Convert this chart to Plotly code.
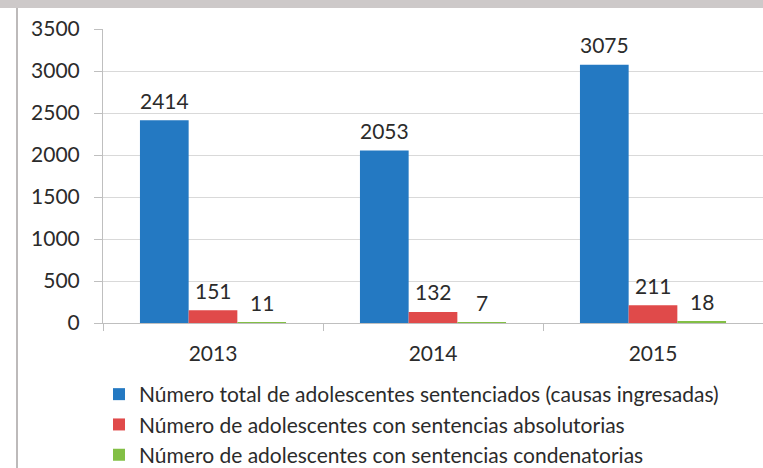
import plotly.graph_objects as go

years = ["2013", "2014", "2015"]
total = [2414, 2053, 3075]
absolutorias = [151, 132, 211]
condenatorias = [11, 7, 18]
series_names = [
    "Número total de adolescentes sentenciados (causas ingresadas)",
    "Número de adolescentes con sentencias absolutorias",
    "Número de adolescentes con sentencias condenatorias",
]
colors = ["#2479c2", "#e04a4a", "#82bf45"]

W, H = 763, 468
ML, MR, MT, MB = 103, 0, 29, 145
PW, PH = W - ML - MR, H - MT - MB

FONT = "Lato"
TXT = "#2b2b2b"
FS = 21
LFS = 21
BARGAP = 0.336

fig = go.Figure()
for name, vals, col in zip(series_names, [total, absolutorias, condenatorias], colors):
    fig.add_trace(go.Bar(x=years, y=vals, name=name, marker_color=col, marker_line_width=0))

# data labels (x given as category index)
bar_px = PW / len(years) * (1 - BARGAP) / 3
for i, vals in enumerate([total, absolutorias, condenatorias]):
    for j, v in enumerate(vals):
        fig.add_annotation(x=j, y=v, xref="x", yref="y", text=str(v), showarrow=False,
                           xshift=(i - 1) * bar_px, yshift=20, yanchor="middle",
                           font=dict(family=FONT, size=FS, color=TXT))

def px_to_paper_x(px):
    return (px - ML) / PW

def px_to_paper_y(py):
    return (H - MB - py) / PH

shapes = [
    dict(type="rect", xref="paper", yref="paper",
         x0=px_to_paper_x(0), x1=px_to_paper_x(W), y0=px_to_paper_y(8), y1=px_to_paper_y(0),
         fillcolor="#cdc9c9", line_width=0, layer="below"),
    dict(type="rect", xref="paper", yref="paper",
         x0=px_to_paper_x(16), x1=px_to_paper_x(18), y0=px_to_paper_y(H), y1=px_to_paper_y(8),
         fillcolor="#bdbaba", line_width=0, layer="below"),
]

fig.update_layout(
    width=W, height=H,
    margin=dict(l=ML, r=MR, t=MT, b=MB, autoexpand=False),
    paper_bgcolor="white", plot_bgcolor="white",
    barmode="group", bargap=BARGAP, bargroupgap=0,
    font=dict(family=FONT, size=FS, color=TXT),
    shapes=shapes,
    showlegend=True,
    legend=dict(orientation="v", x=px_to_paper_x(99), y=px_to_paper_y(374),
                xanchor="left", yanchor="top", font=dict(family=FONT, size=LFS, color=TXT),
                bgcolor="rgba(0,0,0,0)", itemclick=False),
    xaxis=dict(type="category", range=[-0.5, 2.5], showline=True, linecolor="#bfbfbf", linewidth=1,
               ticks="outside", tickson="boundaries", ticklen=7, tickcolor="#bfbfbf",
               showgrid=False, ticklabelstandoff=12, fixedrange=True, tickangle=0,
               automargin=False),
    yaxis=dict(range=[0, 3500], dtick=500, showline=True, linecolor="#bfbfbf", linewidth=1,
               ticks="outside", ticklen=8, tickcolor="#bfbfbf",
               showgrid=True, gridcolor="#d9d9d9", gridwidth=1, zeroline=False,
               ticklabelstandoff=10, fixedrange=True, automargin=False),
)

fig.write_html("out.html")
